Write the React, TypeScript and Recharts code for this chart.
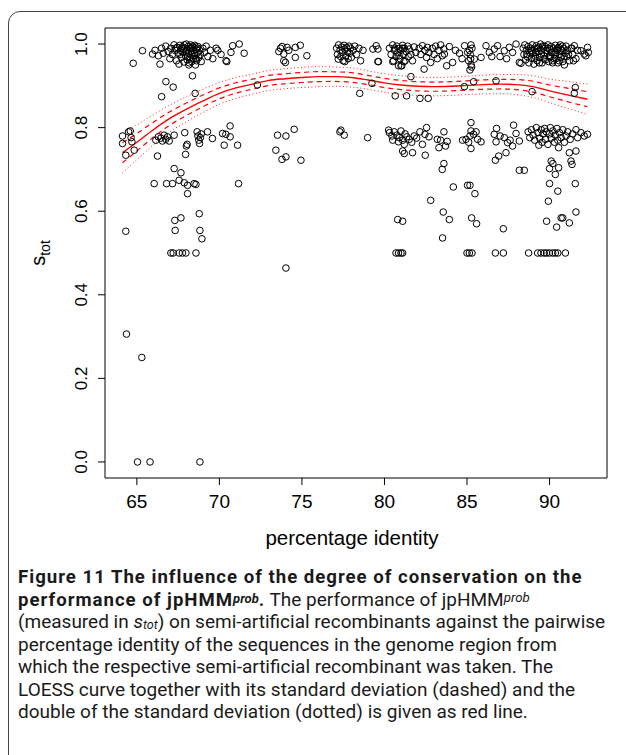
import React from 'react';
import { ComposedChart, Scatter, Line, XAxis, YAxis, ReferenceArea } from 'recharts';

// ---- axes ----
const xTicks = [65, 70, 75, 80, 85, 90];
const yTicks = [0, 0.2, 0.4, 0.6, 0.8, 1.0];
const xDomain: [number, number] = [63.07, 93.48];
const yDomain: [number, number] = [-0.0384, 1.0384];

// ---- scatter points (percentage identity, s_tot) ----
const upperBandPoints: [number, number][] = [
  [64.78, 0.954], [65.34, 0.984], [65.95, 0.976], [66.1, 0.985], [66.3, 0.972], [66.4, 0.952], [66.5, 0.99], [66.6, 0.978],
  [66.75, 0.995], [66.9, 0.982], [67.0, 0.965], [67.05, 0.99], [67.15, 0.975], [67.25, 0.998], [67.3, 0.985], [67.4, 0.96],
  [67.45, 0.992], [67.5, 0.978], [67.55, 0.952], [67.6, 0.997], [67.65, 0.985], [67.7, 0.968], [67.75, 0.993], [67.8, 0.98],
  [67.85, 0.957], [67.9, 0.99], [67.95, 0.972], [68.0, 1.0], [68.02, 0.985], [68.05, 0.962], [68.1, 0.994], [68.12, 0.978],
  [68.15, 0.95], [68.2, 0.99], [68.22, 0.968], [68.25, 0.998], [68.3, 0.983], [68.32, 0.958], [68.35, 0.975], [68.4, 0.992],
  [68.42, 0.965], [68.45, 0.985], [68.5, 0.997], [68.52, 0.972], [68.55, 0.95], [68.6, 0.988], [68.62, 0.96], [68.65, 0.978],
  [68.7, 0.994], [68.75, 0.968], [68.8, 0.985], [68.85, 0.975], [68.9, 0.958], [69.0, 0.99], [69.1, 0.98], [69.2, 0.995],
  [69.3, 0.97], [69.45, 0.985], [69.6, 0.965], [69.8, 0.99], [69.9, 0.985], [70.1, 0.975], [70.4, 0.96], [70.45, 0.958],
  [70.7, 0.98], [70.8, 0.996], [71.2, 1.0], [71.5, 0.978], [68.37, 0.924], [66.76, 0.91], [67.2, 0.897], [66.5, 0.874],
  [68.53, 0.882], [72.3, 0.902],
  [67.35, 0.99], [67.62, 0.975], [67.88, 0.998], [68.08, 0.97], [68.28, 0.99], [68.48, 0.978], [68.68, 0.99], [68.18, 0.955],
  [67.98, 0.982], [68.38, 0.995], [68.58, 0.965], [67.72, 0.99],
  [73.6, 0.982], [73.9, 0.976], [73.9, 0.96], [74.0, 0.956], [74.1, 0.992], [73.8, 0.994], [74.6, 0.992], [74.9, 0.997],
  [74.6, 0.968], [75.3, 0.972], [74.2, 0.985], [73.7, 0.99],
  [77.1, 0.99], [77.15, 0.975], [77.2, 0.964], [77.22, 0.998], [77.3, 0.985], [77.35, 0.97], [77.4, 0.993], [77.45, 0.98],
  [77.5, 0.96], [77.55, 0.997], [77.6, 0.988], [77.65, 0.972], [77.7, 0.992], [77.75, 0.982], [77.8, 0.965], [77.85, 0.995],
  [77.9, 0.978], [77.95, 0.99], [78.0, 0.968], [78.1, 0.985], [78.2, 0.995], [78.3, 0.975], [78.45, 0.99], [78.55, 0.96],
  [78.7, 0.985], [77.6, 0.958], [79.3, 0.988], [79.6, 0.988], [79.5, 0.996], [79.64, 0.958], [79.24, 0.906], [78.5, 0.882],
  [80.3, 0.99], [80.4, 0.975], [80.5, 0.998], [80.55, 0.96], [80.6, 0.985], [80.7, 0.97], [80.75, 0.995], [80.8, 0.98],
  [80.85, 0.948], [80.9, 0.99], [80.95, 0.965], [81.0, 0.985], [81.05, 0.948], [81.1, 0.997], [81.15, 0.975], [81.2, 0.99],
  [81.25, 0.96], [81.3, 0.982], [81.4, 0.995], [81.45, 0.97], [81.5, 0.988], [81.6, 0.975], [81.7, 0.96], [81.8, 0.993],
  [81.9, 0.98], [82.1, 0.99], [82.2, 0.975], [82.3, 0.996], [82.4, 0.94], [82.45, 0.985], [82.55, 0.968], [82.6, 0.992],
  [82.7, 0.98], [82.8, 0.956], [82.9, 0.99], [83.0, 0.975], [83.1, 0.995], [83.2, 0.965], [83.3, 0.985], [83.4, 0.998],
  [83.5, 0.972], [83.6, 0.988], [83.63, 0.976], [83.77, 0.948], [83.93, 0.994], [84.13, 0.956], [84.3, 0.985], [84.54, 0.978],
  [84.85, 0.996], [84.7, 0.965], [85.04, 0.98], [85.24, 0.998], [85.18, 0.938], [85.1, 0.96], [85.2, 0.975], [85.3, 0.99],
  [85.25, 0.95], [85.44, 0.964], [85.85, 0.968], [86.15, 0.996], [86.35, 0.98], [86.65, 0.988], [86.85, 0.996], [87.26, 0.984],
  [87.56, 0.992], [87.76, 0.98], [87.97, 1.0], [88.17, 0.956], [87.0, 0.97], [87.4, 0.965], [86.5, 0.97], [81.6, 0.922],
  [80.65, 0.876], [81.34, 0.876], [82.15, 0.87], [82.65, 0.87], [80.5, 0.958], [81.0, 0.948], [79.6, 0.958],
  [80.62, 0.99], [80.88, 0.972], [81.08, 0.99], [81.18, 0.958], [85.15, 0.985], [85.22, 0.965], [85.28, 0.945],
  [88.4, 0.99], [88.45, 0.975], [88.5, 0.998], [88.55, 0.962], [88.6, 0.985], [88.65, 0.97], [88.7, 0.994], [88.75, 0.955],
  [88.8, 0.98], [88.85, 0.99], [88.9, 0.966], [88.95, 0.998], [89.0, 0.978], [89.05, 0.952], [89.1, 0.988], [89.15, 0.97],
  [89.2, 0.996], [89.25, 0.96], [89.3, 0.982], [89.35, 0.992], [89.4, 0.968], [89.45, 1.0], [89.5, 0.976], [89.55, 0.955],
  [89.6, 0.99], [89.65, 0.972], [89.7, 0.995], [89.75, 0.962], [89.8, 0.985], [89.85, 0.978], [89.9, 0.998], [89.95, 0.958],
  [90.0, 0.988], [90.05, 0.97], [90.1, 0.994], [90.15, 0.98], [90.2, 0.96], [90.25, 0.99], [90.3, 0.975], [90.35, 0.997],
  [90.4, 0.965], [90.45, 0.985], [90.5, 0.955], [90.55, 0.992], [90.6, 0.975], [90.65, 0.998], [90.7, 0.968], [90.75, 0.985],
  [90.8, 0.958], [90.85, 0.99], [90.9, 0.95], [90.95, 0.978], [91.0, 0.995], [91.05, 0.97], [91.1, 0.985], [91.2, 0.96],
  [91.3, 0.99], [91.4, 0.975], [91.5, 0.996], [91.6, 0.965], [91.7, 0.985], [91.9, 0.984], [92.1, 0.976], [92.2, 0.972],
  [92.3, 0.992], [92.35, 0.98], [88.94, 0.886], [91.56, 0.896], [91.5, 0.882], [88.27, 0.954], [84.84, 0.898], [85.4, 0.91],
  [86.76, 0.912],
  [88.62, 0.975], [88.88, 0.985], [89.08, 0.965], [89.28, 0.99], [89.48, 0.985], [89.68, 0.965], [89.88, 0.99], [90.08, 0.98],
  [90.28, 0.965], [90.48, 0.99], [90.68, 0.985], [90.88, 0.97], [89.18, 0.98], [89.58, 0.995], [89.98, 0.97], [90.38, 0.98],
  [90.78, 0.995], [91.15, 0.975], [91.35, 0.99], [91.45, 0.96], [89.38, 0.955], [90.18, 0.955], [90.58, 0.96],
];

const middleBandPoints: [number, number][] = [
  [64.13, 0.78], [64.13, 0.762], [64.33, 0.734], [64.6, 0.792], [64.65, 0.776], [64.7, 0.766], [64.84, 0.746], [64.5, 0.79],
  [66.25, 0.732], [66.15, 0.77], [66.3, 0.778], [66.45, 0.775], [66.55, 0.768], [66.65, 0.782], [66.75, 0.772], [66.85, 0.778],
  [66.96, 0.768], [67.26, 0.782], [67.9, 0.788], [68.0, 0.756], [68.05, 0.76], [67.95, 0.736], [68.65, 0.79], [68.7, 0.78],
  [68.75, 0.77], [68.8, 0.762], [68.85, 0.776], [68.9, 0.785], [69.28, 0.79], [69.58, 0.774], [70.19, 0.786], [70.39, 0.784],
  [70.29, 0.758], [70.65, 0.804], [70.65, 0.778], [71.1, 0.758], [73.52, 0.782], [73.42, 0.746], [73.79, 0.724], [74.03, 0.73],
  [74.03, 0.78], [74.53, 0.796], [74.94, 0.722], [77.36, 0.794], [77.56, 0.782], [77.3, 0.79], [78.98, 0.776],
  [80.25, 0.794], [80.3, 0.788], [80.45, 0.78], [80.6, 0.79], [80.75, 0.782], [80.9, 0.776], [81.0, 0.792], [81.1, 0.77],
  [81.25, 0.785], [81.35, 0.778], [81.5, 0.772], [81.65, 0.765], [81.8, 0.78], [81.95, 0.775], [82.15, 0.79], [82.3, 0.76],
  [82.45, 0.784], [82.55, 0.8], [82.7, 0.778], [80.5, 0.77], [80.85, 0.766], [81.2, 0.76], [81.1, 0.744], [81.2, 0.738],
  [81.7, 0.74], [82.47, 0.734], [83.2, 0.772], [83.6, 0.79], [83.4, 0.77], [83.8, 0.767], [83.3, 0.752], [83.7, 0.756],
  [83.6, 0.714], [83.5, 0.7], [85.24, 0.812], [85.24, 0.792], [85.18, 0.78], [85.55, 0.79], [85.64, 0.772], [85.85, 0.766],
  [85.24, 0.75], [84.94, 0.772], [84.73, 0.77], [85.1, 0.765], [85.4, 0.784], [86.65, 0.784], [86.79, 0.798], [86.76, 0.766],
  [87.26, 0.776], [87.46, 0.764], [87.61, 0.77], [87.76, 0.756], [87.82, 0.806], [87.97, 0.786], [88.17, 0.768], [87.36, 0.74],
  [86.92, 0.732], [86.72, 0.722], [88.17, 0.698], [88.47, 0.698], [87.0, 0.78],
  [88.7, 0.79], [88.8, 0.776], [88.9, 0.795], [89.0, 0.782], [89.1, 0.77], [89.2, 0.8], [89.3, 0.788], [89.4, 0.775],
  [89.5, 0.795], [89.55, 0.765], [89.6, 0.785], [89.7, 0.798], [89.75, 0.772], [89.8, 0.79], [89.9, 0.76], [90.0, 0.785],
  [90.05, 0.8], [90.1, 0.775], [90.2, 0.792], [90.3, 0.765], [90.35, 0.782], [90.45, 0.798], [90.5, 0.77], [90.6, 0.788],
  [90.7, 0.776], [90.8, 0.795], [90.9, 0.765], [91.0, 0.78], [91.1, 0.79], [91.25, 0.772], [91.4, 0.785], [91.6, 0.795],
  [91.7, 0.776], [91.9, 0.788], [92.1, 0.78], [92.3, 0.784], [89.35, 0.758], [90.55, 0.752],
  [90.1, 0.72], [90.2, 0.714], [90.0, 0.702], [90.55, 0.704], [90.35, 0.688], [91.2, 0.74], [91.3, 0.72], [91.36, 0.712],
  [91.6, 0.744],
];

const lowerPoints: [number, number][] = [
  [64.33, 0.552], [64.37, 0.306], [65.3, 0.25], [65.04, 0], [65.8, 0], [68.82, 0],
  [66.05, 0.666], [66.8, 0.666], [67.16, 0.666], [67.26, 0.702], [67.67, 0.692], [67.56, 0.674], [67.87, 0.668], [68.07, 0.662],
  [68.07, 0.642], [68.47, 0.666], [68.58, 0.664], [71.16, 0.666],
  [68.78, 0.594], [67.67, 0.584], [67.3, 0.578], [67.32, 0.554], [68.82, 0.554], [68.94, 0.534],
  [67.06, 0.5], [67.2, 0.5], [67.56, 0.5], [67.76, 0.5], [67.97, 0.5], [68.58, 0.5],
  [74.03, 0.464],
  [84.17, 0.658], [82.8, 0.626], [83.56, 0.598], [83.93, 0.58], [83.52, 0.536], [80.8, 0.58], [81.1, 0.576],
  [80.7, 0.5], [80.85, 0.5], [81.0, 0.5], [81.1, 0.5],
  [85.03, 0.662], [85.18, 0.662], [85.48, 0.642], [85.28, 0.584], [85.58, 0.57],
  [85.0, 0.5], [85.14, 0.5], [85.3, 0.5],
  [87.2, 0.558], [86.72, 0.5], [87.2, 0.5],
  [90.0, 0.666], [90.5, 0.648], [91.56, 0.666], [89.93, 0.624],
  [89.82, 0.576], [90.43, 0.562], [90.7, 0.584], [90.8, 0.584], [91.2, 0.572], [91.6, 0.598],
  [88.73, 0.5], [89.28, 0.5], [89.48, 0.5], [89.68, 0.5], [89.82, 0.5], [89.99, 0.5], [90.19, 0.5], [90.35, 0.5],
  [90.5, 0.5], [90.96, 0.5],
];

// ---- LOESS curve with standard deviation ----
const loessX = [64.13, 65, 66, 67, 68, 69, 70, 71, 72, 73, 74, 75, 76, 77, 78, 79, 80, 81, 82, 83, 84, 85, 86, 87, 88, 89, 90, 91, 92.3];
const loessFit = [0.74, 0.765, 0.795, 0.822, 0.844, 0.864, 0.882, 0.895, 0.904, 0.913, 0.917, 0.92, 0.922, 0.922, 0.92, 0.914, 0.907, 0.902, 0.899, 0.898, 0.899, 0.901, 0.903, 0.904, 0.903, 0.898, 0.888, 0.879, 0.868];
const loessSd = [0.024, 0.021, 0.018, 0.016, 0.015, 0.014, 0.013, 0.0125, 0.012, 0.012, 0.012, 0.012, 0.012, 0.0115, 0.0115, 0.011, 0.011, 0.011, 0.011, 0.011, 0.011, 0.011, 0.0112, 0.0115, 0.012, 0.013, 0.014, 0.016, 0.018];

const scatterData = [...upperBandPoints, ...middleBandPoints, ...lowerPoints].map(([x, y]) => ({ x, y }));
const loessTable = loessX.map((x, i) => ({
  x,
  fit: loessFit[i],
  up1: loessFit[i] + loessSd[i],
  lo1: loessFit[i] - loessSd[i],
  up2: loessFit[i] + 2 * loessSd[i],
  lo2: loessFit[i] - 2 * loessSd[i],
}));

const AXIS_FONT = '"Liberation Sans", Arial, Helvetica, sans-serif';

const OpenCircle = (props: any) => {
  const { cx, cy } = props;
  if (cx == null || cy == null) return null;
  return <circle cx={cx} cy={cy} r={3.3} fill="none" stroke="#000" strokeWidth={1} />;
};

const YTick = (props: any) => {
  const { y, payload } = props;
  const bx = 87;
  return (
    <text
      x={bx}
      y={y}
      transform={`rotate(-90 ${bx} ${y})`}
      textAnchor="middle"
      fontSize={17}
      fontFamily={AXIS_FONT}
      fill="#000"
    >
      {Number(payload.value).toFixed(1)}
    </text>
  );
};

const XLabel = (props: any) => {
  const vb = props.viewBox || { x: 105, width: 502 };
  return (
    <text x={vb.x + vb.width / 2 - 4} y={545} textAnchor="middle" fontSize={20.5} fontFamily={AXIS_FONT} fill="#000">
      percentage identity
    </text>
  );
};

const YLabel = (props: any) => {
  const vb = props.viewBox || { y: 28, height: 450 };
  const cy = vb.y + vb.height / 2;
  const bx = 45;
  return (
    <text x={bx} y={cy} transform={`rotate(-90 ${bx} ${cy})`} textAnchor="middle" fontSize={20} fontFamily={AXIS_FONT} fill="#000">
      s<tspan fontSize={14} dy={5}>tot</tspan>
    </text>
  );
};

const supStyle: React.CSSProperties = { fontSize: '0.7em', verticalAlign: '0.27em', lineHeight: 0, fontStyle: 'italic', letterSpacing: 0 };
const subStyle: React.CSSProperties = { fontSize: '0.66em', verticalAlign: '-0.08em', lineHeight: 0, fontStyle: 'italic' };
const boldStyle: React.CSSProperties = { fontWeight: 700, fontSize: 18.6, letterSpacing: '1px' };

export default function App() {
  return (
    <div style={{ position: 'absolute', left: 0, top: 0, width: 626, height: 755, overflow: 'hidden', background: '#fff' }}>
      <div
        style={{
          position: 'absolute',
          left: 8,
          top: 11,
          width: 720,
          height: 820,
          border: '1.5px solid #444',
          borderRadius: 12,
          boxSizing: 'border-box',
        }}
      />
      <div style={{ position: 'absolute', left: 0, top: 0 }}>
        <ComposedChart width={626} height={560} data={loessTable} margin={{ top: 28, right: 19, bottom: 22, left: 0 }}>
          <XAxis
            type="number"
            dataKey="x"
            domain={xDomain}
            allowDataOverflow
            ticks={xTicks}
            axisLine={false}
            tickLine={{ stroke: '#000' }}
            tickSize={7}
            tickMargin={10}
            height={60}
            tick={{ fontSize: 19, fill: '#000', fontFamily: AXIS_FONT }}
            label={<XLabel />}
          />
          <YAxis
            type="number"
            domain={yDomain}
            allowDataOverflow
            ticks={yTicks}
            axisLine={false}
            tickLine={{ stroke: '#000' }}
            tickSize={7}
            width={105}
            tick={<YTick />}
            label={<YLabel />}
          />
          <Scatter data={scatterData} dataKey="y" shape={<OpenCircle />} isAnimationActive={false} />
          <Line type="monotone" dataKey="up2" stroke="#ff2020" strokeWidth={1} strokeDasharray="1 2.5" dot={false} isAnimationActive={false} />
          <Line type="monotone" dataKey="lo2" stroke="#ff2020" strokeWidth={1} strokeDasharray="1 2.5" dot={false} isAnimationActive={false} />
          <Line type="monotone" dataKey="up1" stroke="#ff0000" strokeWidth={1.2} strokeDasharray="5 4" dot={false} isAnimationActive={false} />
          <Line type="monotone" dataKey="lo1" stroke="#ff0000" strokeWidth={1.2} strokeDasharray="5 4" dot={false} isAnimationActive={false} />
          <Line type="monotone" dataKey="fit" stroke="#ff0000" strokeWidth={1.4} dot={false} isAnimationActive={false} />
          <ReferenceArea
            x1={xDomain[0]}
            x2={xDomain[1]}
            y1={yDomain[0]}
            y2={yDomain[1]}
            fill="none"
            fillOpacity={0}
            stroke="#000"
            strokeWidth={1}
            ifOverflow="visible"
          />
        </ComposedChart>
      </div>
      <div
        style={{
          position: 'absolute',
          left: 18,
          top: 566,
          fontFamily: 'Roboto, "Open Sans", sans-serif',
          fontSize: 19,
          lineHeight: '22.5px',
          color: '#1a1a1a',
          whiteSpace: 'nowrap',
        }}
      >
        <div style={boldStyle}>Figure 11 The influence of the degree of conservation on the</div>
        <div>
          <span style={boldStyle}>
            performance of jpHMM<span style={supStyle}>prob</span>.
          </span>{' '}
          The performance of jpHMM<span style={supStyle}>prob</span>
        </div>
        <div>
          (measured in <i>s</i>
          <span style={subStyle}>tot</span>) on semi-artificial recombinants against the pairwise
        </div>
        <div>percentage identity of the sequences in the genome region from</div>
        <div>which the respective semi-artificial recombinant was taken. The</div>
        <div>LOESS curve together with its standard deviation (dashed) and the</div>
        <div>double of the standard deviation (dotted) is given as red line.</div>
      </div>
    </div>
  );
}
